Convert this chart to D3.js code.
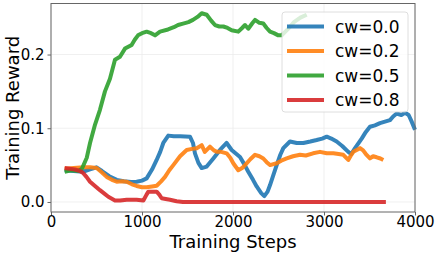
<!DOCTYPE html>
<html>
<head>
<meta charset="utf-8">
<script src="https://cdn.jsdelivr.net/npm/d3@7"></script>
<style>
  body { margin: 0; background: #fff; }
  svg { display: block; font-family: "DejaVu Sans", sans-serif; }
</style>
</head>
<body>
<div id="chart"></div>
<script>
// Series names and colours
var seriesNames = ['cw=0.0', 'cw=0.2', 'cw=0.5', 'cw=0.8'];
var seriesColors = ['#1f77b4', '#ff7f0e', '#2ca02c', '#d62728'];

// Tick values
var xTicks = [0, 1000, 2000, 3000, 4000];
var yTicks = [0.0, 0.1, 0.2];

// [step, reward]
var cw00 = [[150,0.043],[250,0.042],[350,0.041],[420,0.044],[500,0.047],[560,0.042],[640,0.035],[722,0.030],[800,0.028],
  [880,0.027],[941,0.0275],[1000,0.029],[1051,0.032],[1110,0.044],[1161,0.057],[1200,0.068],[1234,0.080],[1289,0.090],
  [1350,0.089],[1420,0.089],[1527,0.0886],[1560,0.080],[1582,0.066],[1620,0.053],[1656,0.046],[1711,0.048],[1784,0.059],
  [1857,0.0705],[1930,0.080],[1985,0.0705],[2077,0.061],[2120,0.052],[2168,0.041],[2220,0.030],[2260,0.021],[2310,0.012],
  [2344,0.008],[2380,0.014],[2407,0.023],[2445,0.037],[2480,0.050],[2520,0.064],[2553,0.073],[2626,0.082],[2700,0.080],
  [2773,0.080],[2850,0.082],[2919,0.084],[2980,0.086],[3030,0.0886],[3080,0.086],[3139,0.082],[3200,0.076],[3267,0.068],
  [3300,0.065],[3341,0.073],[3414,0.086],[3460,0.095],[3505,0.102],[3560,0.104],[3615,0.107],[3670,0.109],[3725,0.111],
  [3760,0.116],[3799,0.120],[3850,0.118],[3890,0.121],[3930,0.118],[3960,0.110],[4000,0.098]];

var cw02 = [[150,0.045],[250,0.046],[355,0.047],[430,0.047],[502,0.046],[560,0.040],[612,0.034],[670,0.030],[722,0.0275],
  [780,0.028],[832,0.0275],[890,0.024],[941,0.0217],[1000,0.020],[1051,0.020],[1110,0.021],[1161,0.022],[1210,0.028],
  [1253,0.034],[1300,0.043],[1344,0.050],[1418,0.062],[1491,0.0705],[1550,0.072],[1601,0.073],[1656,0.077],[1690,0.068],
  [1747,0.075],[1790,0.070],[1821,0.068],[1870,0.068],[1930,0.066],[1970,0.060],[2003,0.0525],[2058,0.043],[2100,0.046],
  [2132,0.050],[2190,0.058],[2242,0.064],[2290,0.062],[2333,0.059],[2370,0.054],[2407,0.050],[2480,0.0525],[2530,0.056],
  [2590,0.059],[2660,0.062],[2736,0.064],[2800,0.063],[2880,0.066],[2956,0.068],[3030,0.066],[3103,0.066],[3160,0.065],
  [3212,0.064],[3267,0.057],[3300,0.064],[3322,0.068],[3396,0.073],[3430,0.070],[3460,0.065],[3505,0.059],[3540,0.062],
  [3579,0.0606],[3620,0.059],[3652,0.057]];

var cw05 = [[150,0.041],[220,0.043],[300,0.042],[340,0.045],[393,0.060],[429,0.080],[484,0.105],[538,0.125],[593,0.150],
  [648,0.167],[703,0.193],[758,0.197],[813,0.208],[886,0.213],[920,0.220],[956,0.226],[1000,0.229],[1051,0.231],
  [1100,0.229],[1143,0.226],[1198,0.231],[1286,0.234],[1350,0.237],[1396,0.240],[1451,0.242],[1510,0.244],[1560,0.247],
  [1610,0.251],[1656,0.256],[1711,0.254],[1760,0.246],[1802,0.240],[1850,0.238],[1894,0.238],[1940,0.236],[1985,0.233],
  [2058,0.231],[2100,0.236],[2132,0.240],[2168,0.235],[2210,0.242],[2242,0.247],[2290,0.243],[2333,0.242],[2370,0.236],
  [2407,0.231],[2450,0.229],[2498,0.226],[2535,0.226],[2600,0.234],[2670,0.244],[2740,0.250],[2810,0.254]];

var cw08 = [[150,0.046],[264,0.044],[320,0.042],[355,0.039],[390,0.034],[429,0.0275],[480,0.022],[538,0.016],[590,0.011],
  [630,0.007],[703,0.002],[760,0.002],[832,0.003],[900,0.003],[941,0.003],[1015,0.002],[1050,0.010],[1070,0.014],
  [1161,0.014],[1190,0.010],[1216,0.005],[1260,0.004],[1308,0.003],[1380,0.001],[1450,0.0],[3680,0.0]];

var seriesData = [cw00, cw02, cw05, cw08];

function draw() {
  const width = 439, height = 254;
  const margin = {top: 3.5, right: 24, bottom: 42, left: 51};

  const svg = d3.select('#chart').append('svg')
      .attr('width', width)
      .attr('height', height);

  const x = d3.scaleLinear().domain([0, 4000]).range([margin.left, width - margin.right]);
  const y = d3.scaleLinear().domain([-0.0136, 0.2692]).range([height - margin.bottom, margin.top]);

  // Grid
  svg.append('g').selectAll('line').data(xTicks).join('line')
      .attr('x1', d => x(d)).attr('x2', d => x(d))
      .attr('y1', y.range()[1]).attr('y2', y.range()[0])
      .attr('stroke', '#ebebeb').attr('stroke-width', 0.8);
  svg.append('g').selectAll('line').data(yTicks).join('line')
      .attr('y1', d => y(d)).attr('y2', d => y(d))
      .attr('x1', x.range()[0]).attr('x2', x.range()[1])
      .attr('stroke', '#ebebeb').attr('stroke-width', 0.8);

  // Lines
  const line = d3.line().x(d => x(d[0])).y(d => y(d[1]));
  seriesData.forEach((s, i) => {
    svg.append('path')
        .datum(s)
        .attr('fill', 'none')
        .attr('stroke', seriesColors[i])
        .attr('stroke-opacity', 0.9)
        .attr('stroke-width', 4)
        .attr('stroke-linejoin', 'round')
        .attr('d', line);
  });

  // Frame
  svg.append('rect')
      .attr('x', x.range()[0]).attr('y', y.range()[1])
      .attr('width', x.range()[1] - x.range()[0])
      .attr('height', y.range()[0] - y.range()[1])
      .attr('fill', 'none').attr('stroke', '#666').attr('stroke-width', 1);

  // Axes
  const xAxis = d3.axisBottom(x).tickValues(xTicks).tickFormat(d3.format('d'))
      .tickSizeInner(3.5).tickSizeOuter(0).tickPadding(1.2);
  const gx = svg.append('g')
      .attr('transform', `translate(0, ${y.range()[0]})`)
      .call(xAxis);
  gx.select('.domain').remove();

  const yAxis = d3.axisLeft(y).tickValues(yTicks).tickFormat(d3.format('.1f'))
      .tickSizeInner(3.5).tickSizeOuter(0).tickPadding(3);
  const gy = svg.append('g')
      .attr('transform', `translate(${x.range()[0]}, 0)`)
      .call(yAxis);
  gy.select('.domain').remove();

  svg.selectAll('.tick line').attr('stroke', '#666');
  svg.selectAll('.tick text')
      .attr('fill', '#000')
      .style('font-size', '15px')
      .style('font-family', '"DejaVu Sans", sans-serif');

  // Axis titles
  svg.append('text')
      .attr('x', (x.range()[0] + x.range()[1]) / 2)
      .attr('y', 247.5)
      .attr('text-anchor', 'middle')
      .style('font-size', '18px')
      .text('Training Steps');

  svg.append('text')
      .attr('transform', `translate(19, ${(y.range()[0] + y.range()[1]) / 2}) rotate(-90)`)
      .attr('text-anchor', 'middle')
      .style('font-size', '18px')
      .text('Training Reward');

  // Legend
  const lg = svg.append('g').attr('transform', 'translate(282, 12)');
  lg.append('rect')
      .attr('width', 126).attr('height', 100)
      .attr('rx', 3)
      .attr('fill', '#fff').attr('fill-opacity', 0.8)
      .attr('stroke', '#d6d6d6').attr('stroke-width', 0.8);
  seriesNames.forEach((name, i) => {
    const row = lg.append('g').attr('transform', `translate(0, ${14.5 + i * 24.5})`);
    row.append('line')
        .attr('x1', 5).attr('x2', 42)
        .attr('stroke', seriesColors[i]).attr('stroke-opacity', 0.9)
        .attr('stroke-width', 4);
    row.append('text')
        .attr('x', 53).attr('y', 6)
        .style('font-size', '17px')
        .text(name);
  });
}

draw();
</script>
</body>
</html>
